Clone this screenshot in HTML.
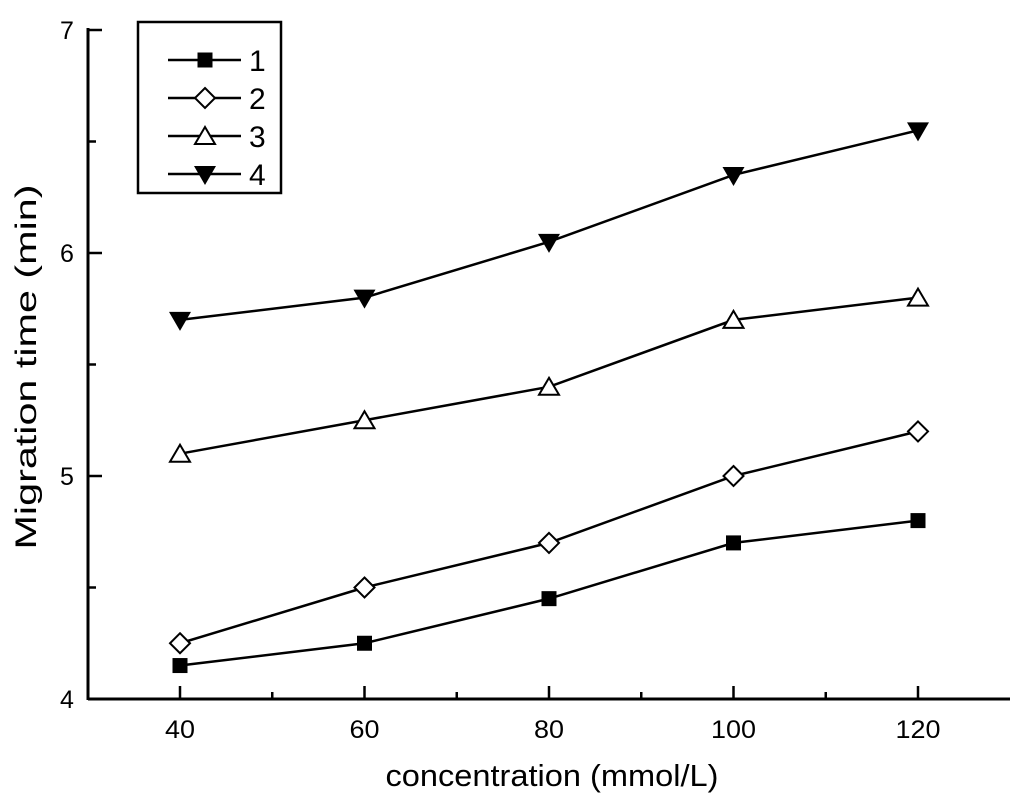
<!DOCTYPE html>
<html><head><meta charset="utf-8"><style>
body{margin:0;background:#fff;}
svg text{font-family:"Liberation Sans",Arial,sans-serif;fill:#000;}
</style></head><body>
<svg id="chart" width="1024" height="802" viewBox="0 0 1024 802" xmlns="http://www.w3.org/2000/svg">
<g id="axes"></g>
<g id="plot"></g>
<text x="552" y="786" font-size="31" text-anchor="middle" textLength="333" lengthAdjust="spacingAndGlyphs">concentration (mmol/L)</text>
<text transform="translate(36,367) rotate(-90)" font-size="30" text-anchor="middle" textLength="365" lengthAdjust="spacingAndGlyphs">Migration time (min)</text>
<g id="legend"></g>
</svg>
<script>
const categories=[40,60,80,100,120];
const series1=[4.15,4.25,4.45,4.7,4.8];
const series2=[4.25,4.5,4.7,5.0,5.2];
const series3=[5.1,5.25,5.4,5.7,5.8];
const series4=[5.7,5.8,6.05,6.35,6.55];
const seriesNames=["1","2","3","4"];
const xTicks=[40,60,80,100,120];
const yTicks=[4,5,6,7];
const NS="http://www.w3.org/2000/svg";
function xs(v){return 180+(v-40)*(918-180)/80;}
function ys(v){return 699-(v-4)*(699-30)/3;}
function mk(tag,attrs,parent){const e=document.createElementNS(NS,tag);for(const k in attrs)e.setAttribute(k,attrs[k]);parent.appendChild(e);return e;}
const axes=document.getElementById('axes');
let a=mk('line',{x1:88,y1:699,x2:1010,y2:699,stroke:'#000','stroke-width':3},axes);


a=mk('line',{x1:88,y1:28,x2:88,y2:700,stroke:'#000','stroke-width':3},axes);


for(let v=40;v<=120;v+=10){const x=xs(v);const maj=v%20===0;
 const t=mk('line',{x1:x,y1:699,x2:x,y2:maj?686:692,stroke:'#000','stroke-width':2.5},axes);
 
 }
xTicks.forEach(v=>{const t=mk('text',{x:xs(v),y:738,'font-size':25,'text-anchor':'middle',textLength:String(v).length*15,lengthAdjust:'spacingAndGlyphs'},axes);t.textContent=v;
 
 });
for(let v=4;v<=7;v+=0.5){const y=ys(v);const maj=v%1===0;
 const t=mk('line',{x1:88,y1:y,x2:maj?102:96,y2:y,stroke:'#000','stroke-width':2.5},axes);
 
 }
yTicks.forEach(v=>{const t=mk('text',{x:67,y:ys(v)+9,'font-size':25,'text-anchor':'middle'},axes);t.textContent=v;
 
 });
function marker(type,x,y,p){let e;
 if(type===0)e=mk('rect',{x:x-7.5,y:y-7.5,width:15,height:15,fill:'#000'},p);
 else if(type===1)e=mk('polygon',{points:`${x},${y-10} ${x+10},${y} ${x},${y+10} ${x-10},${y}`,fill:'#fff',stroke:'#000','stroke-width':2},p);
 else if(type===2)e=mk('polygon',{points:`${x},${y-9} ${x+10},${y+8} ${x-10},${y+8}`,fill:'#fff',stroke:'#000','stroke-width':2},p);
 else e=mk('polygon',{points:`${x-11},${y-8} ${x+11},${y-8} ${x},${y+11}`,fill:'#000'},p);
 return e;}
const plot=document.getElementById('plot');
[series1,series2,series3,series4].forEach((s,i)=>{
 const l=mk('polyline',{points:s.map((v,j)=>xs(categories[j])+','+ys(v)).join(' '),fill:'none',stroke:'#000','stroke-width':2.5},plot);
 
 
 s.forEach((v,j)=>{const m=marker(i,xs(categories[j]),ys(v),plot);
  
  });
});
const lg=document.getElementById('legend');
const box=mk('rect',{x:138,y:22,width:143,height:171,fill:'#fff',stroke:'#000','stroke-width':2.5},lg);


seriesNames.forEach((n,i)=>{const y=60+i*38;
 const l=mk('line',{x1:168,y1:y,x2:241,y2:y,stroke:'#000','stroke-width':2.5},lg);
 
 
 const m=marker(i,205,y,lg);
 
 
 const t=mk('text',{x:249,y:y+11,'font-size':30},lg);t.textContent=n;
 
 });
</script>
</body></html>
